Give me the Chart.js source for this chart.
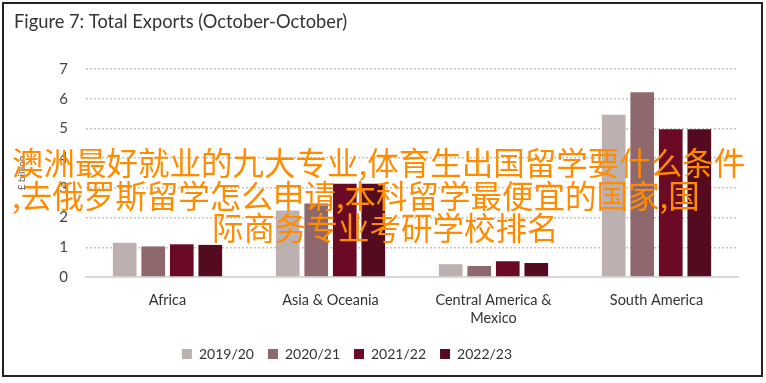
<!DOCTYPE html>
<html><head><meta charset="utf-8">
<script src="https://cdn.jsdelivr.net/npm/chart.js@4"></script>
<style>
html,body{margin:0;padding:0;background:#fff;}
#wrap{position:relative;width:766px;height:383px;overflow:hidden;}
#frame{position:absolute;left:2px;top:2px;width:757px;height:371px;border:2px solid #222;pointer-events:none;}
canvas{position:absolute;left:0;top:0;}
.ov{position:absolute;font-family:"Noto Sans CJK SC";font-size:31.5px;line-height:32px;color:#FF8C00;white-space:pre;}
</style></head>
<body><div id="wrap">
<canvas id="c" width="766" height="383"></canvas>
<div id="frame"></div>
<div class="ov" style="left:12px;top:145px;">澳洲最好就业的九大专业,体育生出国留学要什么条件</div>
<div class="ov" style="left:12px;top:178px;">,去俄罗斯留学怎么申请,本科留学最便宜的国家,国</div>
<div class="ov" style="left:212px;top:210px;">际商务专业考研学校排名</div>
</div>
<script>
const categories = ["Africa", ["Asia & Oceania"], ["Central America &", "Mexico"], "South America"];
const seriesNames = ["2019/20", "2020/21", "2021/22", "2022/23"];
const v2019 = [1.15, 2.24, 0.43, 5.46];
const v2020 = [1.03, 2.47, 0.37, 6.22];
const v2021 = [1.10, 3.14, 0.53, 4.97];
const v2022 = [1.08, 3.14, 0.47, 4.97];
const yTicks = [0, 1, 2, 3, 4, 5, 6, 7];
const colors = ["#BDB0B0", "#8E686C", "#6A0A24", "#540A1F"];
const values = [v2019, v2020, v2021, v2022];
const font = "Lato";
const legendShift = {
  id: 'legendShift',
  beforeDraw(chart) {
    const l = chart.legend;
    if (l && !l._shifted) { l.left -= 29; l.right -= 29; l._shifted = true; }
  }
};
new Chart(document.getElementById('c'), {
  type: 'bar',
  plugins: [legendShift],
  data: {
    labels: categories,
    datasets: seriesNames.map((n, i) => ({
      label: n, data: values[i], backgroundColor: colors[i], borderWidth: 0,
      categoryPercentage: 0.7, barPercentage: 0.83
    }))
  },
  options: {
    responsive: false, animation: false,
    layout: {padding: {left: 14, right: 28, top: 4, bottom: 12}},
    plugins: {
      title: {display: true, text: "Figure 7: Total Exports (October-October)", align: 'start',
        color: '#333', font: {family: font, size: 18.3, weight: 'normal'}, padding: {top: 7, bottom: 36}},
      legend: {position: 'bottom', labels: {boxWidth: 10, boxHeight: 10, padding: 14, color: '#333',
        font: {family: font, size: 14}}},
      tooltip: {enabled: false}
    },
    scales: {
      x: {
        grid: {display: false},
        border: {color: '#d9d9d9', width: 2},
        ticks: {color: '#333', font: {family: font, size: 14.5}, padding: 7, maxRotation: 0, autoSkip: false},
        afterFit: s => { s.height = 56; }
      },
      y: {
        min: 0, max: 7,
        afterBuildTicks: s => { s.ticks = yTicks.map(v => ({value: v})); },
        title: {display: true, text: "£ billion", color: '#555', font: {family: font, size: 10}, padding: 2},
        border: {display: false, dash: [2, 2]},
        grid: {color: c => c.tick && c.tick.value === 0 ? 'rgba(0,0,0,0)' : '#c4c4c4', lineWidth: 1.5, drawTicks: false},
        ticks: {color: '#444', font: {family: font, size: 15}, padding: 18},
        afterFit: s => { s.width = 72; }
      }
    }
  }
});
</script>
</body></html>
